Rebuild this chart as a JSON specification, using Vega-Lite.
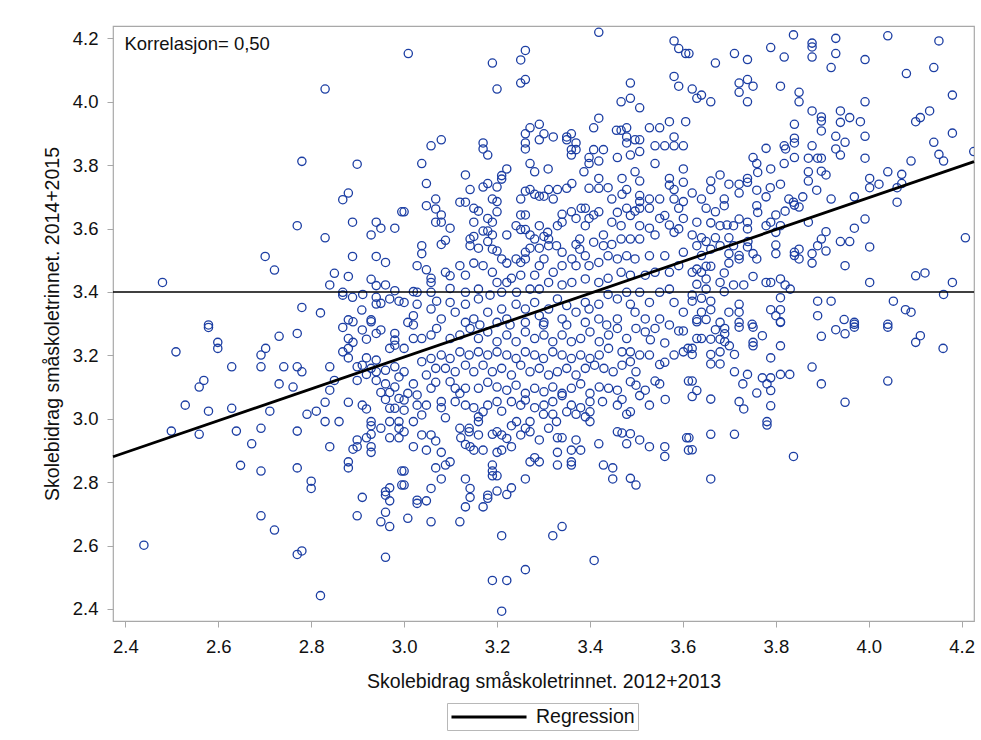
{
"$schema": "https://vega.github.io/schema/vega-lite/v6.json",
"width": 861, "height": 595,
"autosize": {"type": "none"},
"padding": {"left": 113, "top": 26, "right": 7, "bottom": 119},
"background": "white",
"config": {
  "font": "Liberation Sans",
  "view": {"stroke": "#a8a8a8", "strokeWidth": 1.2},
  "axis": {"labelFont": "Liberation Sans", "titleFont": "Liberation Sans", "labelFontSize": 18.5, "titleFontSize": 19.5, "titleFontWeight": "normal", "labelColor": "#111", "titleColor": "#111", "tickColor": "#a8a8a8", "tickSize": 6, "domain": false, "grid": false}
},
"datasets": {
"pts": [
{"x":2.830,"y":4.040},{"x":2.780,"y":3.812},{"x":2.899,"y":3.803},{"x":2.880,"y":3.712},{"x":2.868,"y":3.691},{"x":2.995,"y":3.653},{"x":2.770,"y":3.609},{"x":2.889,"y":3.620},{"x":2.940,"y":3.620},{"x":2.950,"y":3.601},{"x":2.980,"y":3.601},{"x":2.929,"y":3.580},{"x":2.830,"y":3.571},{"x":2.701,"y":3.512},{"x":2.721,"y":3.469},{"x":2.889,"y":3.512},{"x":2.940,"y":3.512},{"x":2.960,"y":3.493},{"x":2.850,"y":3.459},{"x":2.880,"y":3.449},{"x":2.929,"y":3.440},{"x":2.960,"y":3.422},{"x":2.840,"y":3.422},{"x":2.480,"y":3.430},{"x":2.940,"y":3.420},{"x":2.980,"y":3.404},{"x":2.868,"y":3.399},{"x":2.868,"y":3.390},{"x":2.889,"y":3.383},{"x":2.911,"y":3.392},{"x":2.940,"y":3.383},{"x":2.969,"y":3.378},{"x":2.989,"y":3.371},{"x":2.940,"y":3.362},{"x":2.950,"y":3.364},{"x":2.780,"y":3.351},{"x":2.820,"y":3.334},{"x":2.909,"y":3.343},{"x":2.880,"y":3.312},{"x":2.929,"y":3.312},{"x":2.579,"y":3.296},
{"x":2.579,"y":3.288},{"x":2.509,"y":3.211},{"x":2.599,"y":3.241},{"x":2.599,"y":3.222},{"x":2.629,"y":3.164},{"x":2.692,"y":3.201},{"x":2.702,"y":3.222},{"x":2.731,"y":3.260},{"x":2.770,"y":3.269},{"x":2.692,"y":3.164},{"x":2.741,"y":3.164},{"x":2.770,"y":3.164},{"x":2.780,"y":3.148},{"x":2.840,"y":3.164},{"x":2.731,"y":3.110},{"x":2.761,"y":3.100},{"x":2.569,"y":3.121},{"x":2.559,"y":3.100},{"x":2.529,"y":3.043},{"x":2.579,"y":3.024},{"x":2.629,"y":3.033},{"x":2.711,"y":3.024},{"x":2.499,"y":2.961},{"x":2.559,"y":2.951},{"x":2.639,"y":2.961},{"x":2.692,"y":2.970},{"x":2.770,"y":2.961},{"x":2.672,"y":2.921},{"x":2.791,"y":3.014},{"x":2.811,"y":3.024},{"x":2.830,"y":3.052},{"x":2.840,"y":3.090},{"x":2.850,"y":3.121},{"x":2.830,"y":2.991},{"x":2.860,"y":2.991},{"x":2.880,"y":3.052},{"x":2.840,"y":2.912},{"x":2.648,"y":2.853},{"x":2.692,"y":2.835},{"x":2.770,"y":2.845},{"x":2.800,"y":2.803},{"x":2.800,"y":2.780},{"x":2.880,"y":2.864},{"x":2.880,"y":2.845},{"x":2.692,"y":2.694},{"x":2.721,"y":2.649},{"x":2.770,"y":2.572},{"x":2.780,"y":2.583},{"x":2.440,"y":2.601},{"x":2.820,"y":2.442},{"x":2.910,"y":2.752},{"x":2.899,"y":2.694},{"x":2.960,"y":2.770},{"x":2.969,"y":2.782},{"x":2.960,"y":2.759},{"x":2.969,"y":2.741},{"x":2.960,"y":2.705},{"x":2.950,"y":2.675},{"x":2.969,"y":2.660},{"x":2.960,"y":2.563},{"x":2.995,"y":2.835},{"x":2.995,"y":2.791},
{"x":2.868,"y":3.288},{"x":2.890,"y":3.306},{"x":2.910,"y":3.280},{"x":2.929,"y":3.306},{"x":2.940,"y":3.269},{"x":2.950,"y":3.280},{"x":2.980,"y":3.269},{"x":2.980,"y":3.248},{"x":2.880,"y":3.253},{"x":2.890,"y":3.241},{"x":2.919,"y":3.251},{"x":2.880,"y":3.222},{"x":2.868,"y":3.211},{"x":2.880,"y":3.192},{"x":2.969,"y":3.222},{"x":2.980,"y":3.232},{"x":2.919,"y":3.192},{"x":2.940,"y":3.185},{"x":2.899,"y":3.164},{"x":2.910,"y":3.169},{"x":2.929,"y":3.159},{"x":2.919,"y":3.140},{"x":2.940,"y":3.148},{"x":2.960,"y":3.153},{"x":2.980,"y":3.164},{"x":2.899,"y":3.121},{"x":2.940,"y":3.121},{"x":2.960,"y":3.110},{"x":2.980,"y":3.100},{"x":2.989,"y":3.132},{"x":2.950,"y":3.083},{"x":2.969,"y":3.083},{"x":2.960,"y":3.061},{"x":2.989,"y":3.064},{"x":2.910,"y":3.043},{"x":2.919,"y":3.031},{"x":2.969,"y":3.033},{"x":2.980,"y":3.033},{"x":2.929,"y":2.991},{"x":2.929,"y":2.978},{"x":2.969,"y":2.991},{"x":2.989,"y":2.991},{"x":2.950,"y":2.970},{"x":2.989,"y":2.970},{"x":2.929,"y":2.951},{"x":2.969,"y":2.940},{"x":2.989,"y":2.940},{"x":2.899,"y":2.933},{"x":2.919,"y":2.940},{"x":2.890,"y":2.904},{"x":2.899,"y":2.912},{"x":2.929,"y":2.912},{"x":2.929,"y":2.894},
{"x":3.009,"y":4.152},{"x":3.419,"y":4.219},{"x":3.190,"y":4.122},{"x":3.200,"y":4.040},{"x":3.251,"y":4.132},{"x":3.261,"y":4.162},{"x":3.251,"y":4.059},{"x":3.261,"y":4.070},{"x":3.581,"y":4.192},{"x":3.591,"y":4.168},{"x":3.606,"y":4.152},{"x":3.581,"y":4.080},{"x":3.591,"y":4.049},{"x":3.487,"y":4.059},{"x":3.467,"y":4.000},{"x":3.487,"y":4.011},{"x":3.507,"y":3.981},{"x":3.419,"y":3.948},{"x":3.408,"y":3.918},{"x":3.291,"y":3.929},{"x":3.271,"y":3.918},{"x":3.261,"y":3.899},{"x":3.301,"y":3.899},{"x":3.321,"y":3.889},{"x":3.291,"y":3.880},{"x":3.261,"y":3.870},{"x":3.261,"y":3.851},{"x":3.350,"y":3.889},{"x":3.360,"y":3.899},{"x":3.350,"y":3.880},{"x":3.370,"y":3.870},{"x":3.360,"y":3.849},{"x":3.360,"y":3.832},{"x":3.370,"y":3.849},{"x":3.080,"y":3.880},{"x":3.058,"y":3.861},{"x":3.170,"y":3.870},{"x":3.170,"y":3.851},{"x":3.180,"y":3.832},{"x":3.038,"y":3.805},{"x":3.271,"y":3.805},{"x":3.281,"y":3.779},{"x":3.310,"y":3.788},{"x":3.387,"y":3.779},{"x":3.398,"y":3.805},{"x":3.398,"y":3.824},{"x":3.408,"y":3.849},{"x":3.429,"y":3.849},{"x":3.419,"y":3.813},{"x":3.459,"y":3.824},{"x":3.457,"y":3.910},{"x":3.467,"y":3.910},{"x":3.479,"y":3.918},{"x":3.479,"y":3.889},{"x":3.497,"y":3.880},{"x":3.507,"y":3.880},{"x":3.479,"y":3.870},{"x":3.487,"y":3.832},{"x":3.507,"y":3.843},{"x":3.528,"y":3.918},{"x":3.550,"y":3.918},{"x":3.571,"y":3.937},{"x":3.606,"y":3.937},{"x":3.581,"y":3.889},{"x":3.540,"y":3.861},{"x":3.561,"y":3.861},{"x":3.581,"y":3.861},{"x":3.601,"y":3.861},{"x":3.540,"y":3.805},{"x":3.601,"y":3.788},{"x":3.497,"y":3.779},{"x":3.507,"y":3.750},{"x":3.469,"y":3.758},{"x":3.419,"y":3.758},{"x":3.398,"y":3.727},{"x":3.419,"y":3.727},{"x":3.439,"y":3.729},{"x":3.479,"y":3.723},{"x":3.469,"y":3.708},{"x":3.447,"y":3.693},{"x":3.571,"y":3.758},{"x":3.571,"y":3.737},{"x":3.581,"y":3.723},{"x":3.601,"y":3.746},{"x":3.581,"y":3.693},{"x":3.601,"y":3.685},{"x":3.507,"y":3.704},{"x":3.507,"y":3.685},{"x":3.528,"y":3.693},{"x":3.550,"y":3.693},{"x":3.132,"y":3.769},{"x":3.048,"y":3.742},{"x":3.142,"y":3.723},{"x":3.170,"y":3.731},{"x":3.180,"y":3.742},{"x":3.200,"y":3.731},{"x":3.210,"y":3.767},{"x":3.221,"y":3.788},{"x":3.210,"y":3.756},{"x":3.261,"y":3.718},{"x":3.271,"y":3.723},{"x":3.251,"y":3.693},{"x":3.281,"y":3.708},{"x":3.291,"y":3.702},{"x":3.301,"y":3.702},{"x":3.321,"y":3.693},{"x":3.311,"y":3.723},{"x":3.330,"y":3.723},{"x":3.350,"y":3.727},{"x":3.361,"y":3.742},
{"x":3.068,"y":3.693},{"x":3.048,"y":3.672},{"x":3.000,"y":3.653},{"x":3.068,"y":3.662},{"x":3.080,"y":3.643},{"x":3.068,"y":3.620},{"x":3.080,"y":3.620},{"x":3.099,"y":3.601},{"x":3.120,"y":3.683},{"x":3.132,"y":3.683},{"x":3.150,"y":3.664},{"x":3.160,"y":3.655},{"x":3.190,"y":3.693},{"x":3.200,"y":3.685},{"x":3.200,"y":3.653},{"x":3.180,"y":3.632},{"x":3.190,"y":3.620},{"x":3.150,"y":3.620},{"x":3.170,"y":3.592},{"x":3.180,"y":3.592},{"x":3.221,"y":3.580},{"x":3.190,"y":3.580},{"x":3.080,"y":3.550},{"x":3.089,"y":3.563},{"x":3.038,"y":3.546},{"x":3.038,"y":3.521},{"x":3.142,"y":3.567},{"x":3.142,"y":3.546},{"x":3.150,"y":3.575},{"x":3.160,"y":3.538},{"x":3.180,"y":3.559},{"x":3.190,"y":3.535},{"x":3.200,"y":3.529},{"x":3.251,"y":3.643},{"x":3.261,"y":3.643},{"x":3.241,"y":3.609},{"x":3.261,"y":3.597},{"x":3.251,"y":3.597},{"x":3.291,"y":3.609},{"x":3.271,"y":3.580},{"x":3.281,"y":3.567},{"x":3.301,"y":3.575},{"x":3.311,"y":3.567},{"x":3.309,"y":3.588},{"x":3.330,"y":3.609},{"x":3.340,"y":3.620},{"x":3.340,"y":3.645},{"x":3.360,"y":3.653},{"x":3.370,"y":3.632},{"x":3.381,"y":3.664},{"x":3.390,"y":3.664},{"x":3.398,"y":3.632},{"x":3.408,"y":3.643},{"x":3.419,"y":3.653},{"x":3.390,"y":3.609},{"x":3.429,"y":3.580},{"x":3.459,"y":3.651},{"x":3.447,"y":3.620},{"x":3.467,"y":3.609},{"x":3.479,"y":3.664},{"x":3.497,"y":3.655},{"x":3.507,"y":3.664},{"x":3.487,"y":3.641},{"x":3.528,"y":3.664},{"x":3.528,"y":3.601},{"x":3.507,"y":3.609},{"x":3.550,"y":3.632},{"x":3.561,"y":3.641},{"x":3.571,"y":3.611},{"x":3.591,"y":3.664},{"x":3.601,"y":3.632},{"x":3.591,"y":3.599},{"x":3.581,"y":3.588},{"x":3.540,"y":3.580},{"x":3.507,"y":3.567},{"x":3.487,"y":3.567},{"x":3.467,"y":3.567},{"x":3.447,"y":3.550},{"x":3.429,"y":3.546},{"x":3.408,"y":3.557},{"x":3.378,"y":3.567},{"x":3.370,"y":3.550},{"x":3.378,"y":3.535},{"x":3.390,"y":3.514},{"x":3.361,"y":3.504},{"x":3.328,"y":3.546},{"x":3.340,"y":3.525},{"x":3.311,"y":3.546},{"x":3.291,"y":3.538},{"x":3.271,"y":3.538},{"x":3.261,"y":3.525},{"x":3.241,"y":3.504},{"x":3.251,"y":3.493},{"x":3.261,"y":3.504},{"x":3.221,"y":3.491},{"x":3.210,"y":3.504},{"x":3.170,"y":3.483},{"x":3.150,"y":3.491},{"x":3.120,"y":3.483},{"x":3.132,"y":3.453},{"x":3.089,"y":3.462},{"x":3.099,"y":3.451},{"x":3.058,"y":3.443},{"x":3.058,"y":3.430},{"x":3.028,"y":3.483},{"x":3.048,"y":3.470},{"x":3.099,"y":3.411},{"x":3.020,"y":3.401},{"x":3.028,"y":3.399},{"x":3.058,"y":3.399},{"x":3.132,"y":3.399},{"x":3.160,"y":3.409},{"x":3.190,"y":3.462},{"x":3.200,"y":3.430},{"x":3.221,"y":3.430},{"x":3.231,"y":3.443},{"x":3.251,"y":3.453},{"x":3.281,"y":3.453},{"x":3.291,"y":3.483},{"x":3.301,"y":3.504},{"x":3.321,"y":3.462},{"x":3.340,"y":3.483},{"x":3.370,"y":3.483},{"x":3.398,"y":3.483},{"x":3.419,"y":3.493},{"x":3.439,"y":3.514},{"x":3.459,"y":3.504},{"x":3.479,"y":3.514},{"x":3.497,"y":3.504},{"x":3.528,"y":3.514},{"x":3.561,"y":3.514},{"x":3.601,"y":3.525},{"x":3.591,"y":3.483},{"x":3.571,"y":3.462},{"x":3.540,"y":3.462},{"x":3.519,"y":3.453},{"x":3.487,"y":3.453},{"x":3.467,"y":3.462},{"x":3.439,"y":3.443},{"x":3.419,"y":3.430},{"x":3.390,"y":3.441},{"x":3.361,"y":3.430},{"x":3.340,"y":3.422},{"x":3.311,"y":3.430},{"x":3.291,"y":3.409},{"x":3.271,"y":3.409},{"x":3.242,"y":3.399},{"x":3.210,"y":3.399},{"x":3.185,"y":3.390},{"x":3.160,"y":3.378},{"x":3.132,"y":3.361},{"x":3.099,"y":3.367},{"x":3.070,"y":3.371},{"x":3.028,"y":3.361},{"x":3.000,"y":3.367},{"x":3.058,"y":3.346},{"x":3.020,"y":3.325},{"x":3.080,"y":3.315},{"x":3.110,"y":3.336},{"x":3.132,"y":3.304},{"x":3.150,"y":3.315},{"x":3.180,"y":3.336},{"x":3.210,"y":3.346},{"x":3.221,"y":3.315},{"x":3.241,"y":3.361},{"x":3.261,"y":3.346},{"x":3.281,"y":3.367},{"x":3.291,"y":3.325},{"x":3.311,"y":3.346},{"x":3.330,"y":3.378},{"x":3.350,"y":3.357},{"x":3.370,"y":3.336},{"x":3.390,"y":3.367},{"x":3.398,"y":3.346},{"x":3.419,"y":3.361},{"x":3.439,"y":3.392},{"x":3.459,"y":3.378},{"x":3.479,"y":3.399},{"x":3.487,"y":3.361},{"x":3.497,"y":3.336},{"x":3.507,"y":3.399},{"x":3.528,"y":3.367},{"x":3.550,"y":3.399},{"x":3.571,"y":3.409},{"x":3.581,"y":3.367},{"x":3.601,"y":3.336},{"x":3.550,"y":3.315},{"x":3.519,"y":3.315},{"x":3.459,"y":3.315},{"x":3.419,"y":3.315},{"x":3.390,"y":3.304},{"x":3.340,"y":3.315},{"x":3.301,"y":3.304},{"x":3.261,"y":3.304},{"x":3.200,"y":3.304},{"x":3.008,"y":3.304},
{"x":3.210,"y":2.393},{"x":3.190,"y":2.490},{"x":3.221,"y":2.490},{"x":3.261,"y":2.524},{"x":3.210,"y":2.631},{"x":3.320,"y":2.631},{"x":3.340,"y":2.660},{"x":3.409,"y":2.553},{"x":3.008,"y":2.686},{"x":3.058,"y":2.675},{"x":3.120,"y":2.675},{"x":3.028,"y":2.743},{"x":3.028,"y":2.733},{"x":3.048,"y":2.741},{"x":3.132,"y":2.722},{"x":3.170,"y":2.722},{"x":3.180,"y":2.749},{"x":3.180,"y":2.759},{"x":3.142,"y":2.752},{"x":3.200,"y":2.772},{"x":3.221,"y":2.761},{"x":3.231,"y":2.782},{"x":3.261,"y":2.810},{"x":3.142,"y":2.780},{"x":3.132,"y":2.810},{"x":3.058,"y":2.780},{"x":3.080,"y":2.810},{"x":3.000,"y":2.791},{"x":3.000,"y":2.835},{"x":3.068,"y":2.845},{"x":3.089,"y":2.854},{"x":3.099,"y":2.864},{"x":3.080,"y":2.894},{"x":3.020,"y":2.912},{"x":3.048,"y":2.901},{"x":3.068,"y":2.930},{"x":3.038,"y":2.949},{"x":3.058,"y":2.949},{"x":3.000,"y":2.959},{"x":3.190,"y":2.854},{"x":3.190,"y":2.835},{"x":3.200,"y":2.820},{"x":3.190,"y":2.820},{"x":3.200,"y":2.894},{"x":3.210,"y":2.901},{"x":3.231,"y":2.912},{"x":3.170,"y":2.901},{"x":3.150,"y":2.901},{"x":3.132,"y":2.919},{"x":3.142,"y":2.912},{"x":3.122,"y":2.940},{"x":3.140,"y":2.959},{"x":3.160,"y":2.949},{"x":3.190,"y":2.951},{"x":3.210,"y":2.949},{"x":3.221,"y":2.938},{"x":3.251,"y":2.949},{"x":3.271,"y":2.864},{"x":3.281,"y":2.877},{"x":3.291,"y":2.864},{"x":3.330,"y":2.854},{"x":3.330,"y":2.894},{"x":3.360,"y":2.864},{"x":3.360,"y":2.854},{"x":3.360,"y":2.901},{"x":3.380,"y":2.901},{"x":3.330,"y":2.940},{"x":3.340,"y":2.940},{"x":3.370,"y":2.933},{"x":3.291,"y":2.933},{"x":3.271,"y":2.959},{"x":3.311,"y":2.970},{"x":3.419,"y":2.921},{"x":3.429,"y":2.854},{"x":3.449,"y":2.845},{"x":3.449,"y":2.810},{"x":3.487,"y":2.812},{"x":3.499,"y":2.791},{"x":3.459,"y":2.959},{"x":3.469,"y":2.955},{"x":3.487,"y":2.953},{"x":3.479,"y":2.921},{"x":3.507,"y":2.933},{"x":3.528,"y":2.912},{"x":3.561,"y":2.912},{"x":3.561,"y":2.881},{"x":3.608,"y":2.940},{"x":3.612,"y":2.901},{"x":3.612,"y":3.119},{"x":3.562,"y":3.061},{"x":3.528,"y":3.043},{"x":3.479,"y":3.014},{"x":3.487,"y":3.022},{"x":3.459,"y":3.043},{"x":3.469,"y":3.061},{"x":3.507,"y":3.073},{"x":3.519,"y":3.090},{"x":3.499,"y":3.148},{"x":3.499,"y":3.106},{"x":3.487,"y":3.117},{"x":3.540,"y":3.119},{"x":3.550,"y":3.110},{"x":3.427,"y":3.054},{"x":3.400,"y":2.991},{"x":3.400,"y":3.022},{"x":3.390,"y":3.006},{"x":3.370,"y":3.014},{"x":3.350,"y":3.022},{"x":3.328,"y":2.991},{"x":3.320,"y":3.014},{"x":3.300,"y":3.014},{"x":3.271,"y":2.991},{"x":3.261,"y":2.970},{"x":3.242,"y":2.991},{"x":3.231,"y":2.978},{"x":3.200,"y":2.959},{"x":3.160,"y":2.991},{"x":3.160,"y":3.006},{"x":3.140,"y":2.970},{"x":3.120,"y":2.970},{"x":3.089,"y":3.003},{"x":3.038,"y":3.012},{"x":3.020,"y":2.991},{"x":3.000,"y":3.027},{"x":3.000,"y":3.059},{"x":3.028,"y":3.043},{"x":3.048,"y":3.043},{"x":3.080,"y":3.054},{"x":3.080,"y":3.035},{"x":3.110,"y":3.054},{"x":3.120,"y":3.080},{"x":3.132,"y":3.043},{"x":3.150,"y":3.035},{"x":3.170,"y":3.022},{"x":3.180,"y":3.043},{"x":3.200,"y":3.054},{"x":3.210,"y":3.024},{"x":3.231,"y":3.054},{"x":3.251,"y":3.043},{"x":3.261,"y":3.059},{"x":3.281,"y":3.035},{"x":3.301,"y":3.043},{"x":3.320,"y":3.054},{"x":3.340,"y":3.073},{"x":3.360,"y":3.043},{"x":3.380,"y":3.035},{"x":3.400,"y":3.054},
{"x":3.008,"y":3.080},{"x":3.028,"y":3.075},{"x":3.058,"y":3.096},{"x":3.068,"y":3.115},{"x":3.099,"y":3.117},{"x":3.110,"y":3.096},{"x":3.132,"y":3.096},{"x":3.160,"y":3.096},{"x":3.180,"y":3.115},{"x":3.200,"y":3.100},{"x":3.221,"y":3.090},{"x":3.241,"y":3.106},{"x":3.261,"y":3.080},{"x":3.281,"y":3.096},{"x":3.301,"y":3.085},{"x":3.320,"y":3.100},{"x":3.340,"y":3.080},{"x":3.360,"y":3.096},{"x":3.380,"y":3.110},{"x":3.400,"y":3.080},{"x":3.420,"y":3.100},{"x":3.440,"y":3.096},{"x":3.459,"y":3.090},{"x":3.000,"y":3.148},{"x":3.020,"y":3.110},{"x":3.048,"y":3.138},{"x":3.068,"y":3.159},{"x":3.089,"y":3.159},{"x":3.110,"y":3.148},{"x":3.132,"y":3.169},{"x":3.150,"y":3.148},{"x":3.170,"y":3.169},{"x":3.190,"y":3.148},{"x":3.210,"y":3.159},{"x":3.231,"y":3.138},{"x":3.251,"y":3.169},{"x":3.271,"y":3.148},{"x":3.291,"y":3.159},{"x":3.311,"y":3.138},{"x":3.330,"y":3.148},{"x":3.350,"y":3.159},{"x":3.370,"y":3.138},{"x":3.390,"y":3.159},{"x":3.410,"y":3.169},{"x":3.430,"y":3.159},{"x":3.450,"y":3.148},{"x":3.469,"y":3.169},{"x":3.487,"y":3.180},{"x":3.507,"y":3.201},{"x":3.528,"y":3.201},{"x":3.550,"y":3.171},{"x":3.561,"y":3.178},{"x":3.581,"y":3.201},{"x":3.601,"y":3.211},{"x":3.611,"y":3.222},{"x":3.561,"y":3.239},{"x":3.591,"y":3.277},{"x":3.601,"y":3.277},{"x":3.571,"y":3.296},{"x":3.530,"y":3.249},{"x":3.487,"y":3.211},{"x":3.469,"y":3.211},{"x":3.440,"y":3.222},{"x":3.420,"y":3.201},{"x":3.400,"y":3.190},{"x":3.380,"y":3.201},{"x":3.360,"y":3.190},{"x":3.340,"y":3.201},{"x":3.320,"y":3.211},{"x":3.300,"y":3.190},{"x":3.281,"y":3.201},{"x":3.261,"y":3.211},{"x":3.241,"y":3.190},{"x":3.221,"y":3.201},{"x":3.200,"y":3.211},{"x":3.180,"y":3.201},{"x":3.160,"y":3.211},{"x":3.140,"y":3.201},{"x":3.120,"y":3.211},{"x":3.099,"y":3.190},{"x":3.080,"y":3.201},{"x":3.058,"y":3.190},{"x":3.038,"y":3.180},{"x":3.000,"y":3.222},{"x":3.020,"y":3.253},{"x":3.038,"y":3.253},{"x":3.058,"y":3.264},{"x":3.070,"y":3.285},{"x":3.099,"y":3.253},{"x":3.120,"y":3.264},{"x":3.142,"y":3.285},{"x":3.160,"y":3.253},{"x":3.180,"y":3.274},{"x":3.200,"y":3.243},{"x":3.221,"y":3.264},{"x":3.241,"y":3.243},{"x":3.261,"y":3.274},{"x":3.281,"y":3.253},{"x":3.301,"y":3.264},{"x":3.320,"y":3.243},{"x":3.340,"y":3.264},{"x":3.360,"y":3.243},{"x":3.380,"y":3.253},{"x":3.400,"y":3.274},{"x":3.420,"y":3.243},{"x":3.440,"y":3.264},{"x":3.459,"y":3.285},{"x":3.479,"y":3.253},{"x":3.499,"y":3.285},{"x":3.519,"y":3.274},{"x":3.540,"y":3.285},{"x":3.020,"y":3.296},{"x":3.350,"y":3.296},{"x":3.436,"y":3.296},{"x":3.300,"y":3.296},{"x":3.228,"y":3.296},{"x":3.163,"y":3.296},
{"x":3.838,"y":4.211},{"x":3.878,"y":4.185},{"x":3.878,"y":4.173},{"x":3.878,"y":4.141},{"x":3.929,"y":4.200},{"x":3.929,"y":4.152},{"x":3.919,"y":4.108},{"x":3.789,"y":4.171},{"x":3.818,"y":4.141},{"x":3.711,"y":4.152},{"x":3.739,"y":4.133},{"x":3.670,"y":4.122},{"x":3.613,"y":4.152},{"x":3.992,"y":4.133},{"x":4.041,"y":4.208},{"x":4.151,"y":4.192},{"x":4.140,"y":4.108},{"x":4.081,"y":4.089},{"x":4.180,"y":4.021},{"x":3.992,"y":4.000},{"x":3.721,"y":4.059},{"x":3.739,"y":4.070},{"x":3.751,"y":4.049},{"x":3.721,"y":4.030},{"x":3.739,"y":4.000},{"x":3.810,"y":4.049},{"x":3.850,"y":4.030},{"x":3.850,"y":4.000},{"x":3.620,"y":4.040},{"x":3.640,"y":4.021},{"x":3.630,"y":4.011},{"x":3.660,"y":4.000},{"x":3.878,"y":3.971},{"x":3.898,"y":3.952},{"x":3.898,"y":3.939},{"x":3.939,"y":3.971},{"x":3.959,"y":3.950},{"x":3.939,"y":3.935},{"x":3.982,"y":3.937},{"x":3.898,"y":3.908},{"x":3.840,"y":3.929},{"x":3.840,"y":3.885},{"x":3.840,"y":3.870},{"x":3.818,"y":3.861},{"x":3.821,"y":3.851},{"x":3.878,"y":3.861},{"x":3.929,"y":3.891},{"x":3.949,"y":3.872},{"x":3.929,"y":3.851},{"x":3.939,"y":3.832},{"x":3.992,"y":3.891},{"x":3.992,"y":3.822},{"x":4.101,"y":3.937},{"x":4.111,"y":3.950},{"x":4.131,"y":3.971},{"x":4.180,"y":3.901},{"x":4.140,"y":3.872},{"x":4.151,"y":3.834},{"x":4.161,"y":3.813},{"x":4.226,"y":3.843},{"x":4.091,"y":3.813},{"x":4.041,"y":3.779},{"x":4.071,"y":3.771},{"x":4.071,"y":3.742},{"x":4.061,"y":3.729},{"x":4.002,"y":3.758},{"x":4.002,"y":3.729},{"x":4.022,"y":3.740},{"x":4.061,"y":3.683},{"x":3.969,"y":3.700},{"x":3.919,"y":3.693},{"x":3.992,"y":3.630},{"x":3.969,"y":3.601},{"x":3.908,"y":3.590},{"x":3.898,"y":3.567},{"x":3.890,"y":3.546},{"x":3.878,"y":3.521},{"x":3.878,"y":3.491},{"x":3.939,"y":3.559},{"x":3.959,"y":3.559},{"x":4.002,"y":3.542},{"x":3.949,"y":3.483},{"x":3.908,"y":3.529},{"x":3.850,"y":3.535},{"x":3.840,"y":3.525},{"x":3.850,"y":3.504},{"x":3.840,"y":3.515},{"x":3.870,"y":3.620},{"x":3.800,"y":3.548},{"x":3.800,"y":3.521},{"x":3.800,"y":3.588},{"x":3.858,"y":3.700},{"x":3.828,"y":3.693},{"x":3.838,"y":3.683},{"x":3.840,"y":3.674},{"x":3.850,"y":3.668},{"x":3.820,"y":3.655},{"x":3.800,"y":3.643},{"x":3.810,"y":3.609},{"x":3.789,"y":3.620},{"x":3.779,"y":3.609},{"x":4.208,"y":3.571},{"x":4.101,"y":3.451},{"x":4.121,"y":3.460},{"x":4.180,"y":3.430},{"x":4.002,"y":3.430},{"x":4.161,"y":3.392},{"x":4.053,"y":3.371},{"x":4.079,"y":3.344},{"x":4.091,"y":3.336},{"x":4.041,"y":3.298},{"x":3.919,"y":3.371},{"x":3.890,"y":3.371},{"x":3.890,"y":3.325},{"x":3.947,"y":3.313},{"x":3.969,"y":3.304},
{"x":3.779,"y":3.853},{"x":3.751,"y":3.824},{"x":3.759,"y":3.805},{"x":3.761,"y":3.777},{"x":3.789,"y":3.788},{"x":3.818,"y":3.805},{"x":3.840,"y":3.824},{"x":3.870,"y":3.822},{"x":3.870,"y":3.779},{"x":3.870,"y":3.750},{"x":3.890,"y":3.822},{"x":3.898,"y":3.822},{"x":3.898,"y":3.781},{"x":3.908,"y":3.769},{"x":3.888,"y":3.721},{"x":3.810,"y":3.740},{"x":3.788,"y":3.729},{"x":3.759,"y":3.721},{"x":3.779,"y":3.700},{"x":3.739,"y":3.758},{"x":3.721,"y":3.740},{"x":3.721,"y":3.712},{"x":3.739,"y":3.746},{"x":3.759,"y":3.672},{"x":3.761,"y":3.651},{"x":3.739,"y":3.620},{"x":3.739,"y":3.599},{"x":3.721,"y":3.630},{"x":3.709,"y":3.609},{"x":3.689,"y":3.693},{"x":3.689,"y":3.672},{"x":3.699,"y":3.740},{"x":3.680,"y":3.769},{"x":3.660,"y":3.750},{"x":3.660,"y":3.723},{"x":3.640,"y":3.693},{"x":3.620,"y":3.712},{"x":3.650,"y":3.664},{"x":3.670,"y":3.653},{"x":3.630,"y":3.620},{"x":3.660,"y":3.618},{"x":3.680,"y":3.609},{"x":3.695,"y":3.611},{"x":3.620,"y":3.580},{"x":3.640,"y":3.571},{"x":3.650,"y":3.559},{"x":3.670,"y":3.571},{"x":3.699,"y":3.571},{"x":3.680,"y":3.546},{"x":3.709,"y":3.546},{"x":3.740,"y":3.559},{"x":3.739,"y":3.542},{"x":3.751,"y":3.521},{"x":3.721,"y":3.515},{"x":3.699,"y":3.521},{"x":3.660,"y":3.535},{"x":3.630,"y":3.546},{"x":3.640,"y":3.515},{"x":3.650,"y":3.481},{"x":3.630,"y":3.472},{"x":3.620,"y":3.462},{"x":3.640,"y":3.462},{"x":3.660,"y":3.481},{"x":3.689,"y":3.460},{"x":3.699,"y":3.491},{"x":3.721,"y":3.504},{"x":3.759,"y":3.504},{"x":3.751,"y":3.449},{"x":3.680,"y":3.430},{"x":3.709,"y":3.422},{"x":3.731,"y":3.422},{"x":3.779,"y":3.430},{"x":3.789,"y":3.430},{"x":3.810,"y":3.441},{"x":3.820,"y":3.422},{"x":3.831,"y":3.409},{"x":3.650,"y":3.441},{"x":3.630,"y":3.424},{"x":3.650,"y":3.409},{"x":3.689,"y":3.401},{"x":3.620,"y":3.390},{"x":3.640,"y":3.380},{"x":3.660,"y":3.371},{"x":3.620,"y":3.371},{"x":3.721,"y":3.361},{"x":3.699,"y":3.336},{"x":3.721,"y":3.336},{"x":3.660,"y":3.344},{"x":3.640,"y":3.336},{"x":3.630,"y":3.313},{"x":3.650,"y":3.313},{"x":3.789,"y":3.344},{"x":3.810,"y":3.344},{"x":3.800,"y":3.325},{"x":3.810,"y":3.304},{"x":3.810,"y":3.382},{"x":3.721,"y":3.304},{"x":3.749,"y":3.298},{"x":3.680,"y":3.304},
{"x":3.630,"y":3.306},{"x":3.670,"y":3.281},{"x":3.690,"y":3.285},{"x":3.690,"y":3.268},{"x":3.721,"y":3.289},{"x":3.751,"y":3.289},{"x":3.810,"y":3.306},{"x":3.630,"y":3.253},{"x":3.640,"y":3.253},{"x":3.660,"y":3.251},{"x":3.680,"y":3.251},{"x":3.690,"y":3.243},{"x":3.700,"y":3.230},{"x":3.620,"y":3.222},{"x":3.620,"y":3.203},{"x":3.660,"y":3.203},{"x":3.680,"y":3.211},{"x":3.711,"y":3.203},{"x":3.751,"y":3.241},{"x":3.751,"y":3.230},{"x":3.771,"y":3.262},{"x":3.810,"y":3.230},{"x":3.789,"y":3.192},{"x":3.660,"y":3.173},{"x":3.680,"y":3.173},{"x":3.711,"y":3.148},{"x":3.739,"y":3.140},{"x":3.729,"y":3.110},{"x":3.771,"y":3.129},{"x":3.781,"y":3.110},{"x":3.789,"y":3.129},{"x":3.789,"y":3.089},{"x":3.759,"y":3.081},{"x":3.810,"y":3.140},{"x":3.830,"y":3.140},{"x":3.620,"y":3.119},{"x":3.630,"y":3.089},{"x":3.620,"y":3.070},{"x":3.660,"y":3.062},{"x":3.721,"y":3.054},{"x":3.731,"y":3.031},{"x":3.789,"y":3.041},{"x":3.781,"y":2.991},{"x":3.781,"y":2.980},{"x":3.613,"y":2.940},{"x":3.660,"y":2.951},{"x":3.711,"y":2.951},{"x":3.620,"y":2.902},{"x":3.660,"y":2.810},{"x":3.838,"y":2.881},{"x":3.878,"y":3.163},{"x":3.898,"y":3.110},{"x":3.949,"y":3.052},{"x":4.041,"y":3.119},{"x":3.898,"y":3.260},{"x":3.929,"y":3.281},{"x":3.949,"y":3.268},{"x":3.969,"y":3.289},{"x":3.969,"y":3.298},{"x":4.041,"y":3.289},{"x":4.101,"y":3.241},{"x":4.111,"y":3.262},{"x":4.160,"y":3.222}
],
"reg": [{"x":2.3735,"y":2.880,"s":"Regression"},{"x":4.2265,"y":3.811,"s":"Regression"}],
"note": [{"x":2.398,"y":4.183,"t":"Korrelasjon= 0,50"}]
},
"layer": [
 {
  "data": {"name": "pts"},
  "mark": {"type": "point", "shape": "circle", "filled": false, "size": 68, "strokeWidth": 1.3, "color": "#1c3ea3", "opacity": 1, "clip": true},
  "encoding": {
   "x": {"field": "x", "type": "quantitative", "scale": {"domain": [2.3735, 4.2265], "nice": false, "zero": false},
         "axis": {"values": [2.4,2.6,2.8,3.0,3.2,3.4,3.6,3.8,4.0,4.2], "format": ".1f", "title": "Skolebidrag småskoletrinnet. 2012+2013", "labelPadding": 10, "titlePadding": 17}},
   "y": {"field": "y", "type": "quantitative", "scale": {"domain": [2.362, 4.239], "nice": false, "zero": false},
         "axis": {"values": [2.4,2.6,2.8,3.0,3.2,3.4,3.6,3.8,4.0,4.2], "format": ".1f", "title": "Skolebidrag småskoletrinnet. 2014+2015", "labelPadding": 9, "titlePadding": 10}}
  }
 },
 {
  "data": {"values": [{}]},
  "mark": {"type": "rule", "color": "black", "strokeWidth": 1.5},
  "encoding": {"y": {"datum": 3.4}}
 },
 {
  "data": {"name": "reg"},
  "mark": {"type": "line", "strokeWidth": 2.8},
  "encoding": {
   "x": {"field": "x", "type": "quantitative"},
   "y": {"field": "y", "type": "quantitative"},
   "color": {"field": "s", "type": "nominal", "scale": {"range": ["black"]},
     "legend": {"title": null, "orient": "none", "legendX": 334, "legendY": 677, "symbolType": "M-4,0H4", "symbolSize": 352, "symbolStrokeWidth": 3, "symbolOffset": 28, "labelOffset": 36, "labelFontSize": 19.5, "labelFont": "Liberation Sans", "labelColor": "#111", "strokeColor": "#b8b8b8", "fillColor": "white", "padding": 3}}
  }
 },
 {
  "data": {"name": "note"},
  "mark": {"type": "text", "align": "left", "baseline": "middle", "fontSize": 18.5, "font": "Liberation Sans", "color": "#111"},
  "encoding": {"x": {"field": "x", "type": "quantitative"}, "y": {"field": "y", "type": "quantitative"}, "text": {"field": "t"}}
 }
]
}
